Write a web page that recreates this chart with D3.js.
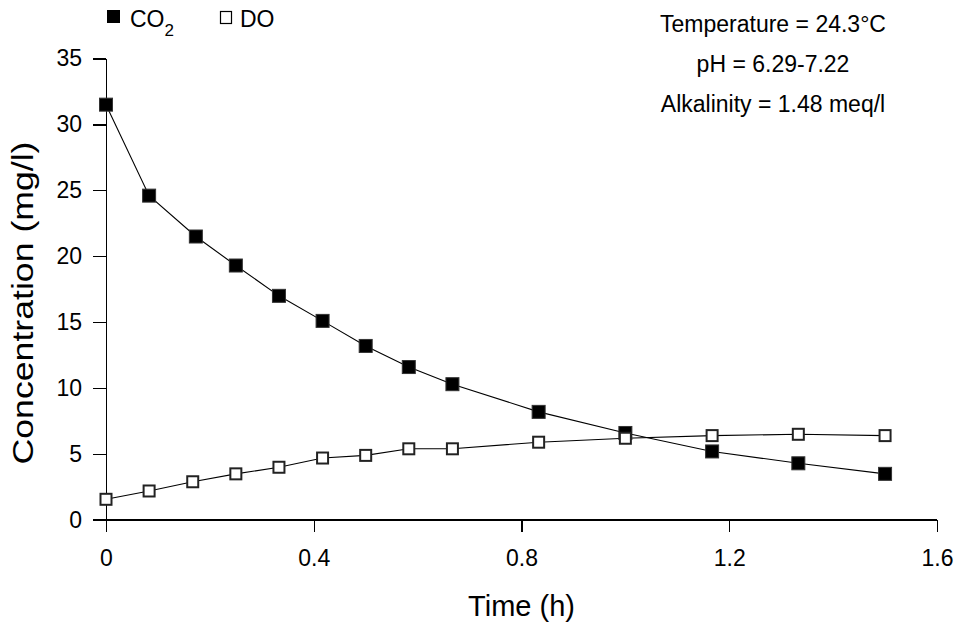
<!DOCTYPE html>
<html>
<head>
<meta charset="utf-8">
<script src="https://cdn.jsdelivr.net/npm/d3@7"></script>
<style>
    body { margin: 0; background: #fff; }
    text { font-family: "Liberation Sans", Arial, sans-serif; fill: #000; }
    .axis path, .axis line { stroke: #000; stroke-width: 1.2; shape-rendering: crispEdges; }
    .seriesLine { fill: none; stroke: #000; stroke-width: 1.1; }
</style>
</head>
<body>
<script>

// data
var timeCO2 = [0, 0.083, 0.173, 0.25, 0.333, 0.417, 0.5, 0.583, 0.667, 0.833, 1.0, 1.167, 1.333, 1.5];
var co2Values = [31.5, 24.6, 21.5, 19.3, 17.0, 15.1, 13.2, 11.6, 10.3, 8.2, 6.6, 5.2, 4.3, 3.5];

var timeDO = [0, 0.083, 0.167, 0.25, 0.333, 0.417, 0.5, 0.583, 0.667, 0.833, 1.0, 1.167, 1.333, 1.5];
var doValues = [1.57, 2.2, 2.9, 3.5, 4.0, 4.7, 4.9, 5.4, 5.4, 5.9, 6.2, 6.4, 6.5, 6.4];

var xTicks = [0, 0.4, 0.8, 1.2, 1.6];
var yTicks = [0, 5, 10, 15, 20, 25, 30, 35];

var notes = ["Temperature = 24.3\u00B0C", "pH = 6.29-7.22", "Alkalinity = 1.48 meq/l"];

window.onload = drawChart();

function drawChart(){

    var width = 959,
        height = 629;

    var svg = d3.select("body")
        .append("svg")
        .attr("width", width)
        .attr("height", height);

    // scales
    var x = d3.scaleLinear()
        .domain([0, 1.6])
        .range([106, 937]);

    var y = d3.scaleLinear()
        .domain([0, 35])
        .range([520, 58.5]);

    // axes
    var xAxis = svg.append("g")
        .attr("class", "axis")
        .attr("transform", "translate(0,520)")
        .call(d3.axisBottom(x)
            .tickValues(xTicks)
            .tickFormat(function(d){ return d === 0 ? "0" : d3.format(".1f")(d); })
            .tickSize(12)
            .tickSizeOuter(0)
            .tickPadding(18));
    xAxis.selectAll("text")
        .style("font-size", "23px");

    var yAxis = svg.append("g")
        .attr("class", "axis")
        .attr("transform", "translate(106,0)")
        .call(d3.axisLeft(y)
            .tickValues(yTicks)
            .tickSize(13)
            .tickSizeOuter(0)
            .tickPadding(11));
    yAxis.selectAll("text")
        .style("font-size", "23px");

    // extend x axis to the left under the 0 tick
    xAxis.select(".domain")
        .attr("d", "M" + (x(0) - 13) + ",0H" + x(1.6));

    // axis titles
    svg.append("text")
        .attr("x", (x(0) + x(1.6)) / 2)
        .attr("y", 616)
        .attr("text-anchor", "middle")
        .style("font-size", "29px")
        .text("Time (h)");

    svg.append("text")
        .attr("transform", "translate(33,303) rotate(-90)")
        .attr("text-anchor", "middle")
        .attr("textLength", 323)
        .attr("lengthAdjust", "spacingAndGlyphs")
        .style("font-size", "30px")
        .text("Concentration (mg/l)");

    // lines
    var co2Points = timeCO2.map(function(t, i){ return [t, co2Values[i]]; });
    var doPoints = timeDO.map(function(t, i){ return [t, doValues[i]]; });

    var line = d3.line()
        .x(function(d){ return x(d[0]); })
        .y(function(d){ return y(d[1]); });

    svg.append("path")
        .datum(co2Points)
        .attr("class", "seriesLine")
        .attr("d", line);

    svg.append("path")
        .datum(doPoints)
        .attr("class", "seriesLine")
        .attr("d", line);

    var s = 13; // marker size

    // CO2 markers (filled)
    svg.selectAll(".co2Mark")
        .data(co2Points)
        .enter()
        .append("rect")
        .attr("class", "co2Mark")
        .attr("x", function(d){ return x(d[0]) - s / 2; })
        .attr("y", function(d){ return y(d[1]) - s / 2; })
        .attr("width", s)
        .attr("height", s)
        .attr("fill", "#000")
        .attr("stroke", "#333")
        .attr("stroke-width", 1);

    // DO markers (open)
    svg.selectAll(".doMark")
        .data(doPoints)
        .enter()
        .append("rect")
        .attr("class", "doMark")
        .attr("x", function(d){ return x(d[0]) - s / 2 + 1; })
        .attr("y", function(d){ return y(d[1]) - s / 2 + 1; })
        .attr("width", s - 2)
        .attr("height", s - 2)
        .attr("fill", "#fff")
        .attr("stroke", "#222")
        .attr("stroke-width", 2);

    // legend
    svg.append("rect")
        .attr("x", 107).attr("y", 10)
        .attr("width", 13).attr("height", 13)
        .attr("fill", "#000");
    var co2Label = svg.append("text")
        .attr("x", 130).attr("y", 27)
        .style("font-size", "23px");
    co2Label.append("tspan").text("CO");
    co2Label.append("tspan")
        .attr("dy", 9)
        .style("font-size", "17px")
        .text("2");

    svg.append("rect")
        .attr("x", 220.5).attr("y", 11.5)
        .attr("width", 11).attr("height", 12)
        .attr("fill", "#fff")
        .attr("stroke", "#000")
        .attr("stroke-width", 1.2);
    svg.append("text")
        .attr("x", 240).attr("y", 27)
        .style("font-size", "23px")
        .text("DO");

    // condition notes
    svg.selectAll(".note")
        .data(notes)
        .enter()
        .append("text")
        .attr("class", "note")
        .attr("x", 773)
        .attr("y", function(d, i){ return 32 + i * 40; })
        .attr("text-anchor", "middle")
        .style("font-size", "23px")
        .text(function(d){ return d; });
};

</script>
</body>
</html>
